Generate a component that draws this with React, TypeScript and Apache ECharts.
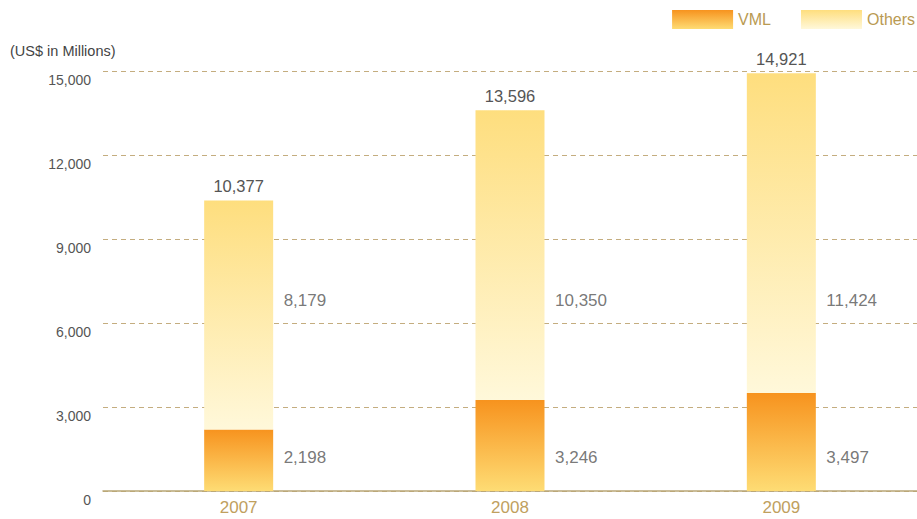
import React, { useEffect, useRef } from "react";
import * as echarts from "echarts";

const years = ["2007", "2008", "2009"];
const vml = [2198, 3246, 3497];
const others = [8179, 10350, 11424];
const totals = [10377, 13596, 14921];
const yTicks = { min: 0, max: 15000, interval: 3000 };
const vmlLabelLevel = [1200, 1200, 1200];
const othersLabelLevel = [6800, 6800, 6800];

const fmt = (v: number) => v.toLocaleString("en-US");
const FONT = "Liberation Sans, Arial, Helvetica, sans-serif";

export default function App() {
  const ref = useRef<HTMLDivElement>(null);
  useEffect(() => {
    if (!ref.current) return;
    const chart = echarts.init(ref.current, undefined, { renderer: "svg" });
    const vmlGrad = new echarts.graphic.LinearGradient(0, 0, 0, 1, [
      { offset: 0, color: "#f7931e" },
      { offset: 1, color: "#fedc74" },
    ]);
    const othGrad = new echarts.graphic.LinearGradient(0, 0, 0, 1, [
      { offset: 0, color: "#fede7e" },
      { offset: 1, color: "#fff8da" },
    ]);
    chart.setOption({
      animation: false,
      textStyle: { fontFamily: FONT },
      grid: { left: 103, right: 0, top: 71, bottom: 28, containLabel: false },
      legend: {
        right: 2,
        top: 10,
        padding: 0,
        itemWidth: 61,
        itemHeight: 19,
        itemGap: 30,
        icon: "rect",
        data: ["VML", "Others"],
        textStyle: { color: "#b99a52", fontSize: 16, fontFamily: FONT },
      },
      graphic: [
        {
          type: "text",
          left: 10,
          top: 43,
          style: { text: "(US$ in Millions)", fill: "#444", font: `14.5px ${FONT}` },
        },
      ],
      xAxis: {
        type: "category",
        data: years,
        axisLine: { lineStyle: { color: "#b8a676", width: 1.5 } },
        axisTick: { show: false },
        axisLabel: { color: "#c0a05e", fontSize: 17, margin: 8, fontFamily: FONT },
      },
      yAxis: {
        type: "value",
        min: yTicks.min,
        max: yTicks.max,
        interval: yTicks.interval,
        axisLine: { show: false },
        axisTick: { show: false },
        axisLabel: {
          color: "#555",
          fontSize: 14,
          margin: 12,
          verticalAlign: "top",
          padding: [2, 0, 0, 0],
          formatter: (v: number) => fmt(v),
          fontFamily: FONT,
        },
        splitLine: { lineStyle: { color: "#c4ad7f", type: [5, 4], width: 1 } },
      },
      series: [
        {
          name: "VML",
          type: "bar",
          stack: "t",
          barWidth: 69,
          data: vml,
          itemStyle: { color: vmlGrad },
        },
        {
          name: "Others",
          type: "bar",
          stack: "t",
          barWidth: 69,
          data: others,
          itemStyle: { color: othGrad },
          label: {
            show: true,
            position: "top",
            distance: 6,
            color: "#555",
            fontSize: 16.5,
            fontFamily: FONT,
            formatter: (p: any) => fmt(totals[p.dataIndex]),
          },
        },
        {
          name: "vmlLabels",
          type: "scatter",
          symbolSize: 0,
          silent: true,
          data: vmlLabelLevel.map((v, i) => [years[i], v]),
          label: {
            show: true,
            position: "right",
            distance: 45,
            color: "#555",
            fontSize: 17,
            fontFamily: FONT,
            formatter: (p: any) => fmt(vml[p.dataIndex]),
          },
        },
        {
          name: "othersLabels",
          type: "scatter",
          symbolSize: 0,
          silent: true,
          data: othersLabelLevel.map((v, i) => [years[i], v]),
          label: {
            show: true,
            position: "right",
            distance: 45,
            color: "#555",
            fontSize: 17,
            fontFamily: FONT,
            formatter: (p: any) => fmt(others[p.dataIndex]),
          },
        },
      ],
    });
    return () => chart.dispose();
  }, []);
  return <div ref={ref} style={{ width: 917, height: 519, position: "absolute", left: 0, top: 0 }} />;
}
